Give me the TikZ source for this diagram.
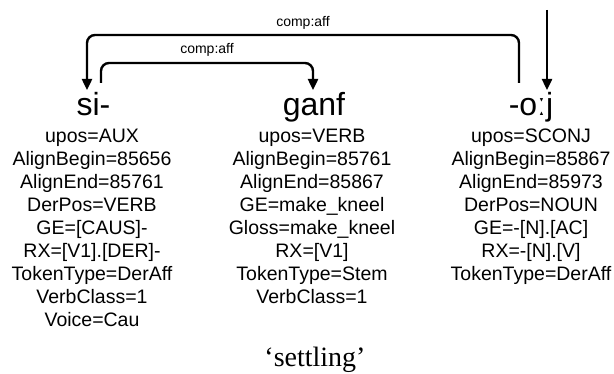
\documentclass[tikz,border=0pt]{standalone}
\usepackage{fontspec}
\setmainfont{Liberation Serif}
\newfontfamily\arialf{Liberation Sans}
\usetikzlibrary{arrows.meta}
\begin{document}
\begin{tikzpicture}[x=1pt,y=-1pt,
  word/.style={font=\arialf\fontsize{32}{32}\selectfont, anchor=base, inner sep=0pt},
  attrs/.style={font=\arialf\fontsize{19.5}{23}\selectfont, align=center, anchor=north, inner sep=0pt},
  lbl/.style={font=\arialf\fontsize{14}{14}\selectfont, inner sep=0pt},
  arc/.style={line width=2.4pt, rounded corners=8pt, -{Triangle[width=10pt,length=11pt]}},
  gloss/.style={font=\fontsize{28}{28}\selectfont, anchor=base, inner sep=0pt}]
\useasboundingbox (0,0) rectangle (614,374);

\node[word] (si) at (93.5,116) {si-};
\node[word] (ganf) at (314,116) {ganf};
\node[word] (oj) at (531,116) {-oːj};

\node[attrs] (siA) at (92,129) {upos=AUX\\AlignBegin=85656\\AlignEnd=85761\\DerPos=VERB\\GE=[CAUS]-\\RX=[V1].[DER]-\\TokenType=DerAff\\VerbClass=1\\Voice=Cau};
\node[attrs] (ganfA) at (312,129) {upos=VERB\\AlignBegin=85761\\AlignEnd=85867\\GE=make\_kneel\\Gloss=make\_kneel\\RX=[V1]\\TokenType=Stem\\VerbClass=1};
\node[attrs] (ojA) at (531,129) {upos=SCONJ\\AlignBegin=85867\\AlignEnd=85973\\DerPos=NOUN\\GE=-[N].[AC]\\RX=-[N].[V]\\TokenType=DerAff};

\node[gloss] (gl) at (315,367) {‘settling’};

\coordinate (ojout) at (519,83);
\coordinate (siin) at (87,90);
\coordinate (siout) at (101,83);
\coordinate (ganfin) at (313,90);
\coordinate (roottop) at (547,10);
\coordinate (ojin) at (547,90);

\draw[arc] (ojout) -- ++(0,-48) -| node[lbl, pos=0.25, above=4pt] {comp:aff} (siin);
\draw[arc] (siout) -- ++(0,-20) -| node[lbl, pos=0.25, above=5pt] {comp:aff} (ganfin);
\draw[arc] (roottop) -- (ojin);
\end{tikzpicture}
\end{document}
